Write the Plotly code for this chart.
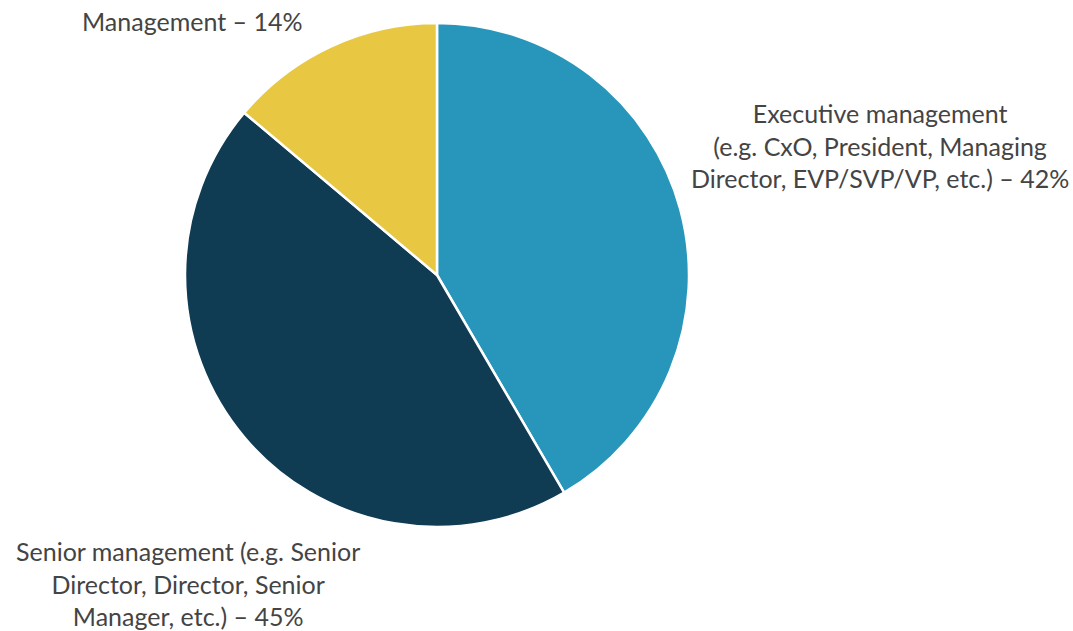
import plotly.graph_objects as go

labels = ['Executive management', 'Senior management', 'Management']
values = [42, 45, 14]
colors = ['#2796BA', '#0F3B53', '#E8C842']

label_texts = [
    'Executive management<br>(e.g. CxO, President, Managing<br>Director, EVP/SVP/VP, etc.) – 42%',
    'Senior management (e.g. Senior<br>Director, Director, Senior<br>Manager, etc.) – 45%',
    'Management – 14%',
]
label_pos = [(0.820, 0.77), (0.175, 0.0745), (0.179, 0.966)]

W, H = 1073, 631

fig = go.Figure(go.Pie(
    labels=labels,
    values=values,
    marker=dict(colors=colors, line=dict(color='white', width=2.5)),
    sort=False,
    direction='clockwise',
    rotation=0,
    textinfo='none',
    hoverinfo='label+percent',
    domain=dict(x=[185 / W, 689 / W], y=[1 - 527 / H, 1 - 23 / H]),
    showlegend=False,
))

for txt, (x, y) in zip(label_texts, label_pos):
    fig.add_annotation(
        text=txt, x=x, y=y, xref='paper', yref='paper',
        xanchor='center', yanchor='middle', showarrow=False, align='center',
        font=dict(family='Lato', size=25, color='#444444'),
    )

fig.update_layout(
    width=W, height=H,
    margin=dict(l=0, r=0, t=0, b=0),
    paper_bgcolor='white',
    plot_bgcolor='white',
)

# drop the browser's default body margin so the figure sits at the top-left
fig.write_html('out.html', config={'displayModeBar': False},
               post_script="document.body.style.margin='0';")
